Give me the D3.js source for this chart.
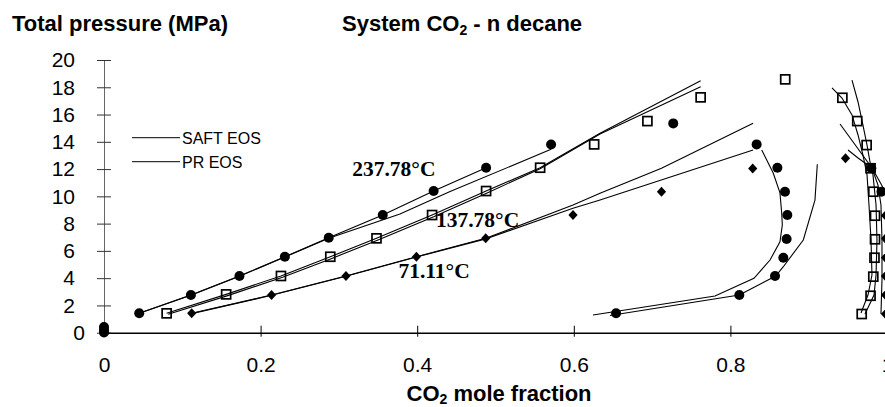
<!DOCTYPE html>
<meta charset="utf-8">
<style>
body { margin: 0; background: #fff; }
svg { display: block; }
.model { fill: none; stroke: #000; stroke-width: 1.1px; }
.lab { font-family: Arial, "Liberation Sans", sans-serif; font-weight: bold; font-size: 22px; }
.temp { font-family: "Times New Roman", "Liberation Serif", serif; font-weight: bold; font-size: 21.5px; }
.tick text { font-family: Arial, "Liberation Sans", sans-serif; font-size: 21px; fill: #000; }
.legend { font-family: Arial, "Liberation Sans", sans-serif; font-size: 16px; }
</style>
<body>
<script src="https://d3js.org/d3.v7.min.js"></script>
<script>

// experimental points [CO2 mole fraction, MPa]
var circles237 = [[0.045,1.42],[0.111,2.76],[0.173,4.16],[0.231,5.57],[0.287,6.97],[0.356,8.63],
  [0.421,10.39],[0.488,12.1],[0.571,13.8],[0.727,15.35],[0.8335,13.81],[0.860,12.1],[0.8697,10.34],
  [0.8727,8.63],[0.8718,6.87],[0.8676,5.5],[0.857,4.16],[0.8114,2.76],[0.654,1.42],
  [0.980,12.06],[0.993,10.34]];
var squares137 = [[0.080,1.42],[0.156,2.81],[0.226,4.16],[0.289,5.57],[0.348,6.92],[0.419,8.63],
  [0.488,10.39],[0.557,12.1],[0.626,13.81],[0.694,15.52],[0.762,17.26],[0.870,18.58],
  [0.943,17.23],[0.962,15.52],[0.974,13.76],[0.979,12.06],[0.9825,10.34],[0.9847,8.58],
  [0.9847,6.85],[0.984,5.5],[0.9825,4.11],[0.979,2.71],[0.9677,1.37]];
var diamonds71 = [[0.112,1.42],[0.214,2.76],[0.309,4.16],[0.399,5.57],[0.4875,6.92],[0.599,8.63],
  [0.712,10.34],[0.8285,12.05],[0.947,12.79],[0.998,8.6],[0.998,6.9],[0.998,5.5],[0.998,4.15],
  [0.998,2.76],[0.998,1.37]];
var pureDecane = [[0,0.42],[0,0.2],[0,0.02]];

// SAFT / PR model curves
var bubble237a = [[0.045,1.42],[0.111,2.76],[0.173,4.16],[0.231,5.57],[0.287,6.97],[0.356,8.63],[0.421,10.39],[0.488,12.1]];
var bubble237b = [[0.045,1.42],[0.111,2.74],[0.173,4.14],[0.231,5.55],[0.287,6.93],[0.378,8.71],[0.442,10.35],[0.571,13.45]];
var bubble137a = [[0.080,1.42],[0.156,2.81],[0.226,4.16],[0.289,5.57],[0.348,6.92],[0.419,8.63],[0.488,10.39],[0.557,12.1],[0.6335,14.62],[0.762,18.47]];
var bubble137b = [[0.082,1.36],[0.158,2.72],[0.228,4.06],[0.291,5.45],[0.350,6.8],[0.421,8.5],[0.490,10.27],[0.557,12.02],[0.6335,14.58],[0.762,18.03]];
var bubble71a = [[0.112,1.42],[0.214,2.76],[0.309,4.16],[0.399,5.57],[0.4875,6.92],[0.599,9.37],[0.6335,10.22],[0.712,12.06],[0.829,15.36]];
var bubble71b = [[0.112,1.40],[0.214,2.74],[0.309,4.14],[0.399,5.55],[0.4875,6.88],[0.599,9.12],[0.6335,9.73],[0.829,13.4]];
var dew237a = [[0.6245,1.30],[0.7803,2.69],[0.8301,3.99],[0.8506,5.33],[0.8633,6.67],[0.8663,7.90],[0.8655,8.78],[0.8633,10.25],[0.8548,11.69],[0.840,13.40]];
var dew237b = [[0.6462,1.26],[0.8114,2.76],[0.8578,4.16],[0.8676,4.84],[0.8931,6.80],[0.908,9.73],[0.911,12.35]];
var dew137a = [[0.9298,17.95],[0.9425,17.21],[0.9553,15.97],[0.963,14.50],[0.9693,13.03],[0.9745,11.57],[0.977,9.37],[0.9796,6.80],[0.9808,4.23],[0.9757,2.76],[0.9668,1.44]];
var dew137b = [[0.9553,18.53],[0.963,16.92],[0.9693,15.23],[0.9745,13.76],[0.9783,12.52],[0.9821,11.57],[0.986,9.37],[0.9872,6.80],[0.986,4.23],[0.9834,2.76],[0.9719,1.37]];
var dew71a = [[0.940,15.31],[0.9808,12.08],[0.9885,10.83],[0.9923,9.37],[0.9936,6.80],[0.9936,3.87],[0.9923,1.37]];
var dew71b = [[0.9502,13.40],[0.963,12.81],[0.9808,12.08],[0.991,11.05],[1.0,10.10]];

var xTicks = [0, 0.2, 0.4, 0.6, 0.8, 1];
var yTicks = [0, 2, 4, 6, 8, 10, 12, 14, 16, 18, 20];
var legendItems = ["SAFT EOS", "PR EOS"];
var tempLabels = [
  {text: "237.78°C", x: 0.317, y: 11.5},
  {text: "137.78°C", x: 0.424, y: 7.78},
  {text: "71.11°C", x: 0.376, y: 4.0}
];

var width = 885, height = 407;

var x = d3.scaleLinear().domain([0, 1]).range([104, 887]);
var y = d3.scaleLinear().domain([0, 20]).range([332.7, 60]);

var svg = d3.select("body").append("svg")
    .attr("width", width)
    .attr("height", height);

// y axis, crossing ticks
var yAxis = svg.append("g")
    .attr("transform", "translate(104,0)")
    .call(d3.axisLeft(y).tickValues(yTicks).tickSize(7).tickPadding(22).tickSizeOuter(0).tickFormat(d3.format("d")));
yAxis.select(".domain").attr("stroke", "#666");
yAxis.selectAll(".tick line").attr("x1", 7).attr("stroke", "#333");
yAxis.selectAll(".tick text").filter(function(d) { return d === 0; }).attr("dx", 10);

// x axis
var xAxis = svg.append("g")
    .attr("transform", "translate(0,332.7)")
    .call(d3.axisBottom(x).tickValues(xTicks).tickSize(4).tickPadding(20).tickSizeOuter(0).tickFormat(d3.format("~g")));
xAxis.select(".domain").attr("stroke", "#000").attr("stroke-width", 1.6);
xAxis.selectAll(".tick line").attr("y1", -7);

// model curves
var line = d3.line()
    .x(function(d) { return x(d[0]); })
    .y(function(d) { return y(d[1]); });

svg.selectAll(".model")
    .data([bubble237a, bubble237b, bubble137a, bubble137b, bubble71a, bubble71b,
           dew237a, dew237b, dew137a, dew137b, dew71a, dew71b])
  .enter().append("path")
    .attr("class", "model")
    .attr("d", line);

// points
svg.selectAll(".sq")
    .data(squares137)
  .enter().append("rect")
    .attr("class", "sq")
    .attr("x", function(d) { return x(d[0]) - 4.5; })
    .attr("y", function(d) { return y(d[1]) - 4.5; })
    .attr("width", 9)
    .attr("height", 9)
    .attr("fill", "none")
    .attr("stroke", "#000")
    .attr("stroke-width", 1.7);

svg.selectAll(".dia")
    .data(diamonds71)
  .enter().append("path")
    .attr("class", "dia")
    .attr("transform", function(d) { return "translate(" + x(d[0]) + "," + y(d[1]) + ")"; })
    .attr("d", "M0,-5L4.6,0L0,5L-4.6,0Z")
    .attr("fill", "#000");

svg.selectAll(".dot")
    .data(circles237.concat(pureDecane))
  .enter().append("circle")
    .attr("class", "dot")
    .attr("cx", function(d) { return x(d[0]); })
    .attr("cy", function(d) { return y(d[1]); })
    .attr("r", 5)
    .attr("fill", "#000");

// legend
var lg = svg.selectAll(".lg")
    .data(legendItems)
  .enter().append("g")
    .attr("class", "lg")
    .attr("transform", function(d, i) { return "translate(132," + (137.7 + i * 24) + ")"; });
lg.append("line").attr("x1", 0).attr("x2", 48).attr("stroke", "#000").attr("stroke-width", 1);
lg.append("text").attr("class", "legend").attr("x", 50).attr("y", 5.8).text(function(d) { return d; });

// temperature labels
svg.selectAll(".temp")
    .data(tempLabels)
  .enter().append("text")
    .attr("class", "temp")
    .attr("x", function(d) { return x(d.x); })
    .attr("y", function(d) { return y(d.y); })
    .text(function(d) { return d.text; });

// titles
svg.append("text").attr("class", "lab").attr("x", 12).attr("y", 31).text("Total pressure (MPa)");

var t = svg.append("text").attr("class", "lab").attr("x", 342).attr("y", 31);
t.append("tspan").text("System CO");
t.append("tspan").attr("dy", 4).attr("font-size", 14).text("2");
t.append("tspan").attr("dy", -4).text(" - n decane");

var xl = svg.append("text").attr("class", "lab").attr("x", 406.5).attr("y", 401);
xl.append("tspan").text("CO");
xl.append("tspan").attr("dy", 3).attr("font-size", 14).text("2");
xl.append("tspan").attr("dy", -3).text(" mole fraction");

</script>
</body>
